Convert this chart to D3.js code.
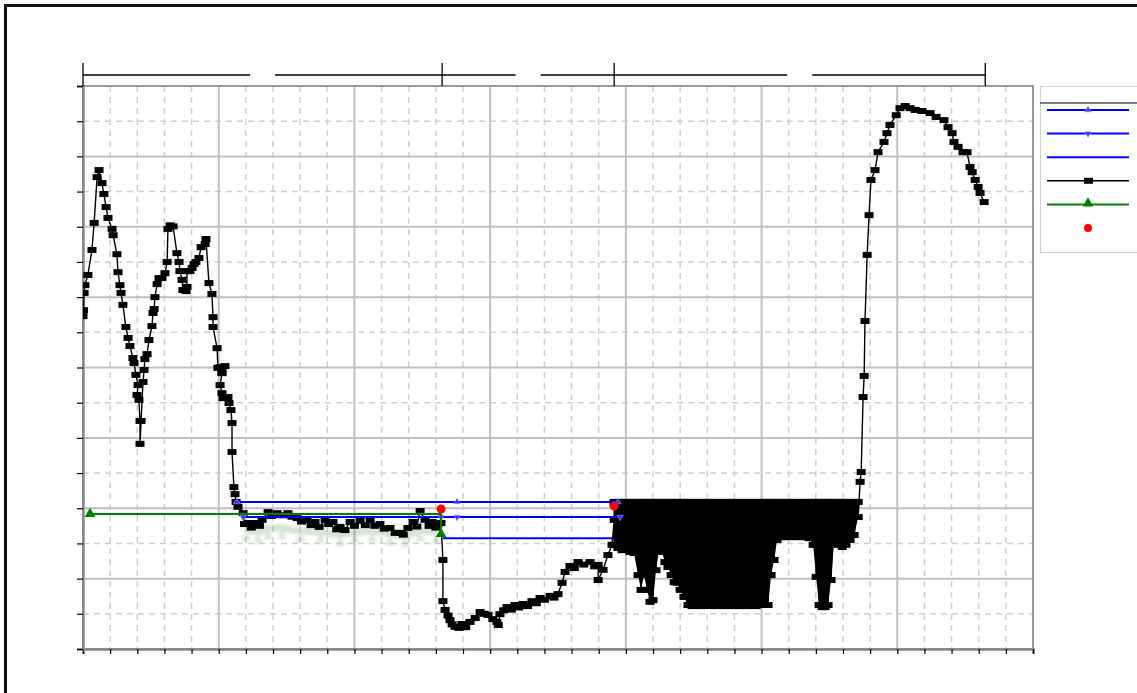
<!DOCTYPE html>
<html>
<head>
<meta charset="utf-8">
<script src="https://cdn.jsdelivr.net/npm/d3@7"></script>
<style>
  body { margin: 0; background: #fff; overflow: hidden; }
  svg { display: block; font-family: "Liberation Sans", Arial, sans-serif; }
</style>
</head>
<body>
<div id="graf"></div>
<script>
// I. Datos (unidades del gráfico: x 0-35, y 0-16)
profileLeft = [[0,9.46],[0.02,9.63],[0.04,10.12],[0.07,10.34],[0.18,10.63],[0.33,11.34],[0.41,12.11],[0.52,13.41],
  [0.59,13.61],[0.70,13.24],[0.77,12.93],[0.85,12.56],[0.92,12.25],[1.07,11.94],[1.11,11.76],[1.25,11.22],[1.29,10.71],
  [1.36,10.34],[1.40,10.12],[1.47,9.78],[1.58,9.15],[1.66,8.84],[1.73,8.61],[1.84,8.27],[1.88,8.13],[1.95,7.79],
  [2.03,7.50],[1.99,7.22],[2.06,7.08],[2.10,6.48],[2.10,5.83],[2.14,6.48],[2.21,7.59],[2.25,7.93],[2.28,8.24],
  [2.36,8.38],[2.43,8.78],[2.54,9.18],[2.58,9.55],[2.62,9.66],[2.65,10.00],[2.73,10.37],[2.80,10.54],[2.91,10.54],
  [3.02,10.68],[3.10,11.00],[3.13,11.94],[3.21,12.04],[3.32,12.01],[3.46,11.25],[3.54,11.00],[3.57,10.74],[3.65,10.49],
  [3.68,10.20],[3.80,10.17],[3.83,10.29],[3.83,10.74],[3.94,10.74],[4.02,10.83],[4.09,10.94],[4.16,11.00],[4.27,11.11],
  [4.35,11.42],[4.50,11.51],[4.53,11.65],[4.64,10.40],[4.75,10.09],[4.79,9.43],[4.79,9.15],[4.94,8.55],[4.97,7.99],
  [5.12,7.87],[5.23,8.04],[5.05,8.01],[5.12,7.84],[5.05,7.50],[5.12,7.27],[5.16,7.13],[5.34,7.16],[5.38,6.99],
  [5.45,6.79],[5.49,6.42],[5.49,5.60],[5.56,4.60],[5.60,4.40],[5.64,4.18],[5.71,4.04],[5.90,3.86]]

profileFlat = [[5.95,3.55],[6.08,3.58],[6.20,3.45],[6.34,3.58],[6.50,3.50],[6.60,3.67],[6.82,3.89],[6.95,3.78],
  [7.15,3.86],[7.35,3.80],[7.55,3.86],[7.70,3.76],[7.89,3.72],[8.05,3.62],[8.25,3.67],[8.40,3.52],[8.55,3.61],
  [8.70,3.47],[8.92,3.67],[9.05,3.55],[9.21,3.61],[9.35,3.40],[9.47,3.47],[9.65,3.38],[9.84,3.61],[10.00,3.50],
  [10.21,3.64],[10.40,3.52],[10.58,3.67],[10.75,3.50],[10.94,3.55],[11.10,3.42],[11.31,3.44],[11.50,3.30],
  [11.68,3.30],[11.80,3.25],[11.97,3.44],[12.16,3.61],[12.30,3.48],[12.42,3.92],[12.60,3.67],[12.75,3.50],
  [12.86,3.61],[13.00,3.45],[13.08,3.55],[13.19,3.58]]

profileDrop = [[13.26,2.53],[13.26,1.36],[13.34,1.11],[13.45,0.95],[13.52,0.82],[13.60,0.70],[13.71,0.63],
  [13.85,0.60],[13.96,0.71],[14.10,0.62],[14.26,0.77],[14.45,0.88],[14.63,1.05],[14.78,1.00],[14.92,0.97],
  [15.10,0.85],[15.25,0.77],[15.30,0.68],[15.36,0.99],[15.50,1.10],[15.62,1.19],[15.78,1.12],[15.92,1.25],
  [16.05,1.18],[16.21,1.28],[16.38,1.22],[16.54,1.36],[16.70,1.30],[16.84,1.45],[17.00,1.40],[17.21,1.51],
  [17.35,1.46],[17.50,1.56],[17.65,1.88],[17.76,2.19],[17.94,2.36],[18.10,2.30],[18.24,2.47],[18.45,2.40],
  [18.68,2.47],[18.85,2.35],[18.98,2.39],[18.98,1.96],[19.16,2.25],[19.34,2.67],[19.49,2.96],[19.57,3.67],[19.57,4.15]]

denseX = [19.57,19.71,19.86,20.01,20.15,20.30,20.45,20.56,20.67,20.78,20.89,21.00,21.11,21.22,21.33,21.44,21.55,
  21.67,21.78,21.89,22.00,22.14,22.29,22.44,22.59,22.73,22.88,23.03,23.18,23.32,23.47,23.62,23.77,23.91,24.06,
  24.21,24.36,24.50,24.65,24.80,24.94,25.09,25.24,25.35,25.46,25.57,25.72,25.87,26.01,26.16,26.31,26.46,26.60,
  26.75,26.90,27.01,27.12,27.23,27.34,27.45,27.56,27.67,27.82,27.97,28.11,28.26,28.41,28.56]
denseTop = [4.18,4.18,4.18,4.18,4.18,4.18,4.18,4.18,4.18,4.18,4.18,4.18,4.18,4.18,4.18,4.18,4.18,
  4.18,4.18,4.18,4.18,4.18,4.18,4.18,4.18,4.18,4.18,4.18,4.18,4.18,4.18,4.18,4.18,4.18,4.18,
  4.18,4.18,4.18,4.18,4.18,4.18,4.18,4.18,4.18,4.18,4.18,4.18,4.18,4.18,4.18,4.18,4.18,4.18,
  4.18,4.18,4.18,4.18,4.18,4.18,4.18,4.18,4.18,4.18,4.18,4.18,4.18,4.18,4.18]
denseLow = [2.96,2.87,2.81,2.87,2.76,2.73,2.10,1.68,2.10,1.68,1.34,1.39,2.24,2.81,2.76,2.47,2.33,
  2.10,1.90,1.88,1.68,1.48,1.25,1.22,1.25,1.22,1.25,1.22,1.25,1.22,1.25,1.22,1.25,1.22,1.25,
  1.22,1.25,1.22,1.25,1.22,1.25,1.25,1.25,2.10,2.53,3.10,3.18,3.18,3.18,3.18,3.18,3.18,3.18,
  3.15,2.96,2.05,1.25,1.19,1.19,1.25,1.96,3.01,2.96,2.90,2.96,3.10,3.24,3.75]

profileRight = [[28.63,4.75],[28.67,5.03],[28.74,7.16],[28.78,7.76],[28.81,9.32],[28.89,11.20],[28.96,12.33],
  [29.03,13.33],[29.18,13.61],[29.29,14.12],[29.51,14.41],[29.62,14.66],[29.73,14.89],[29.96,15.17],[30.10,15.37],
  [30.29,15.43],[30.47,15.37],[30.66,15.32],[30.91,15.29],[31.21,15.23],[31.43,15.12],[31.72,15.03],[31.87,14.83],
  [32.02,14.66],[32.09,14.41],[32.24,14.27],[32.42,14.12],[32.57,14.12],[32.68,13.70],[32.76,13.55],[32.87,13.33],
  [32.98,13.13],[33.05,12.96],[33.20,12.70]]

ghostGreen = [[6.01,3.38],[6.45,3.32],[6.82,3.44],[7.33,3.44],[8.00,3.35],[8.73,3.32],[9.47,3.24],[10.02,3.32],
  [10.65,3.35],[11.31,3.27],[11.86,3.21],[12.42,3.38],[13.01,3.32]]

blueUp = [[5.67,4.18],[13.78,4.18],[19.71,4.18]]
blueDown = [[5.90,3.75],[13.19,3.75],[13.78,3.75],[19.79,3.75]]
bluePlain = [[13.26,3.15],[19.57,3.15]]
greenLine = [[0.26,3.84],[13.19,3.84],[13.19,3.27]]
greenMarks = [[0.26,3.84],[13.19,3.27]]
redDots = [[13.19,3.98],[19.57,4.06]]

dimStops = [0, 13.23, 19.57, 33.24]
legendKeys = ['blueUp', 'blueDown', 'blue', 'black', 'green', 'red']

// II. Configuración
ancho_total = 1137
alto_total = 693
plot = { left: 83, top: 86, right: 1033, bottom: 649 }

svg = d3.select('#graf').append('svg')
  .attr('width', ancho_total)
  .attr('height', alto_total)

x = d3.scaleLinear().domain([0, 35]).range([plot.left, plot.right])
y = d3.scaleLinear().domain([0, 16]).range([plot.bottom, plot.top])

defs = svg.append('defs')
defs.append('filter').attr('id', 'blur')
  .attr('x', '-20%').attr('y', '-50%').attr('width', '140%').attr('height', '200%')
  .append('feGaussianBlur').attr('stdDeviation', 1.8)
defs.append('clipPath').attr('id', 'clip')
  .append('rect').attr('x', plot.left).attr('y', plot.top)
  .attr('width', plot.right - plot.left).attr('height', plot.bottom - plot.top)

// marco exterior (solo bordes izquierdo y superior visibles)
svg.append('path')
  .attr('d', `M5.5,${alto_total + 5} V5.5 H${ancho_total + 5}`)
  .attr('fill', 'none').attr('stroke', '#111').attr('stroke-width', 3)

// III. Rejilla
xTicks = d3.range(0, 36, 1)
yTicks = d3.range(0, 17, 1)
grid = svg.append('g')

grid.selectAll('.gx').data(xTicks.filter(d => d % 5 !== 0)).enter().append('line')
  .attr('x1', d => x(d)).attr('x2', d => x(d)).attr('y1', plot.top).attr('y2', plot.bottom)
  .attr('stroke', '#cfcfcf').attr('stroke-width', 1.5).attr('stroke-dasharray', '6,5')
grid.selectAll('.gy').data(yTicks.filter(d => d % 2 !== 0)).enter().append('line')
  .attr('y1', d => y(d)).attr('y2', d => y(d)).attr('x1', plot.left).attr('x2', plot.right)
  .attr('stroke', '#cfcfcf').attr('stroke-width', 1.5).attr('stroke-dasharray', '6,5')
grid.selectAll('.Gx').data(xTicks.filter(d => d % 5 === 0)).enter().append('line')
  .attr('x1', d => x(d)).attr('x2', d => x(d)).attr('y1', plot.top).attr('y2', plot.bottom)
  .attr('stroke', '#c0c0c0').attr('stroke-width', 2)
grid.selectAll('.Gy').data(yTicks.filter(d => d % 2 === 0)).enter().append('line')
  .attr('y1', d => y(d)).attr('y2', d => y(d)).attr('x1', plot.left).attr('x2', plot.right)
  .attr('stroke', '#c0c0c0').attr('stroke-width', 2)

// borde del área
svg.append('rect')
  .attr('x', plot.left).attr('y', plot.top)
  .attr('width', plot.right - plot.left).attr('height', plot.bottom - plot.top)
  .attr('fill', 'none').attr('stroke', '#999').attr('stroke-width', 2)

// ejes
xAxisGroup = svg.append('g').attr('transform', `translate(0, ${plot.bottom})`)
  .call(d3.axisBottom(x).tickValues(xTicks).tickSize(5).tickFormat(''))
yAxisGroup = svg.append('g').attr('transform', `translate(${plot.left}, 0)`)
  .call(d3.axisLeft(y).tickValues(yTicks).tickSize(6).tickFormat(''))
svg.selectAll('.domain').attr('stroke', '#888').attr('stroke-width', 2.5)
svg.selectAll('.tick line').attr('stroke', '#000').attr('stroke-width', 1.2)

// cotas superiores
dim = svg.append('g')
dimY = 75
for (let i = 0; i < dimStops.length - 1; i++) {
  let a = x(dimStops[i]), b = x(dimStops[i + 1]), m = (a + b) / 2
  dim.append('line').attr('x1', a).attr('x2', m - 12.5).attr('y1', dimY).attr('y2', dimY)
    .attr('stroke', '#000').attr('stroke-width', 1.3)
  dim.append('line').attr('x1', m + 12.5).attr('x2', b).attr('y1', dimY).attr('y2', dimY)
    .attr('stroke', '#000').attr('stroke-width', 1.3)
}
dim.selectAll('.tk').data(dimStops).enter().append('line')
  .attr('x1', d => x(d)).attr('x2', d => x(d)).attr('y1', 63).attr('y2', plot.top)
  .attr('stroke', '#000').attr('stroke-width', 1.3)

// IV. Series
linea = d3.line().x(d => x(d[0])).y(d => y(d[1]))
series = svg.append('g').attr('clip-path', 'url(#clip)')

// sombra verde difusa
ghost = series.append('g').attr('filter', 'url(#blur)').attr('opacity', 0.28)
ghost.append('path').datum(ghostGreen).attr('d', linea)
  .attr('fill', 'none').attr('stroke', '#6a9a68').attr('stroke-width', 7)
ghost.selectAll('path.gm').data(ghostGreen).enter().append('path')
  .attr('d', d3.symbol(d3.symbolTriangle, 45))
  .attr('transform', d => `translate(${x(d[0])}, ${y(d[1]) + 8})`)
  .attr('fill', '#7aa078')

// serie negra
zigzag = []
denseX.forEach((v, i) => { zigzag.push([v, denseTop[i]]); zigzag.push([v, denseLow[i]]) })
blackPts = profileLeft.concat(profileFlat, profileDrop, zigzag, profileRight)

series.append('path').datum(denseX)
  .attr('d', d3.area().x(d => x(d)).y0((d, i) => y(denseLow[i])).y1((d, i) => y(denseTop[i])))
  .attr('fill', '#000')
series.append('path').datum(blackPts).attr('d', linea)
  .attr('fill', 'none').attr('stroke', '#000').attr('stroke-width', 1.4)
series.selectAll('rect.bm').data(blackPts).enter().append('rect')
  .attr('x', d => x(d[0]) - 4.5).attr('y', d => y(d[1]) - 3)
  .attr('width', 9).attr('height', 6).attr('fill', '#000')

// series azules
function blueSeries(pts, sym, rot) {
  series.append('path').datum(pts).attr('d', linea)
    .attr('fill', 'none').attr('stroke', '#0000ff').attr('stroke-width', 2)
  if (sym) {
    series.selectAll(null).data(pts).enter().append('path')
      .attr('d', d3.symbol(d3.symbolTriangle, 18))
      .attr('transform', d => `translate(${x(d[0])}, ${y(d[1])}) rotate(${rot})`)
      .attr('fill', '#3a3aff').attr('stroke', '#9999ff').attr('stroke-width', 0.6)
  }
}
blueSeries(blueUp, true, 0)
blueSeries(blueDown, true, 180)
blueSeries(bluePlain, false, 0)

// serie verde
series.append('path').datum(greenLine).attr('d', linea)
  .attr('fill', 'none').attr('stroke', '#008000').attr('stroke-width', 2)
series.selectAll('path.gt').data(greenMarks).enter().append('path')
  .attr('d', d3.symbol(d3.symbolTriangle, 50))
  .attr('transform', d => `translate(${x(d[0])}, ${y(d[1])})`)
  .attr('fill', '#008000')

// puntos rojos
series.selectAll('circle.rd').data(redDots).enter().append('circle')
  .attr('cx', d => x(d[0])).attr('cy', d => y(d[1])).attr('r', 4.5)
  .attr('fill', '#ff0000')

// V. Leyenda
leg = svg.append('g').attr('transform', 'translate(1040, 86)')
leg.append('rect').attr('x', 0.5).attr('y', 0.5).attr('width', 110).attr('height', 166)
  .attr('fill', '#fff').attr('stroke', '#d0d0d0').attr('stroke-width', 1)
leg.append('line').attr('x1', 0).attr('x2', 100).attr('y1', 17).attr('y2', 17)
  .attr('stroke', '#000').attr('stroke-width', 1.2)

legendKeys.forEach((k, i) => {
  let ly = 24 + i * 23.6
  let g = leg.append('g').attr('transform', `translate(0, ${ly})`)
  let col = k === 'black' ? '#000' : k === 'green' ? '#008000' : '#0000ff'
  if (k !== 'red') {
    g.append('line').attr('x1', 7).attr('x2', 89).attr('stroke', col)
      .attr('stroke-width', k === 'black' ? 1.5 : 2)
  }
  if (k === 'blueUp' || k === 'blueDown') {
    g.append('path').attr('d', d3.symbol(d3.symbolTriangle, 18))
      .attr('transform', `translate(48, 0) rotate(${k === 'blueUp' ? 0 : 180})`)
      .attr('fill', '#3a3aff').attr('stroke', '#9999ff').attr('stroke-width', 0.6)
  } else if (k === 'black') {
    g.append('rect').attr('x', 44).attr('y', -3).attr('width', 9).attr('height', 6).attr('fill', '#000')
  } else if (k === 'green') {
    g.append('path').attr('d', d3.symbol(d3.symbolTriangle, 50))
      .attr('transform', 'translate(48, -1)').attr('fill', '#008000')
  } else if (k === 'red') {
    g.append('circle').attr('cx', 48).attr('cy', 0).attr('r', 4).attr('fill', '#ff0000')
  }
})
</script>
</body>
</html>
